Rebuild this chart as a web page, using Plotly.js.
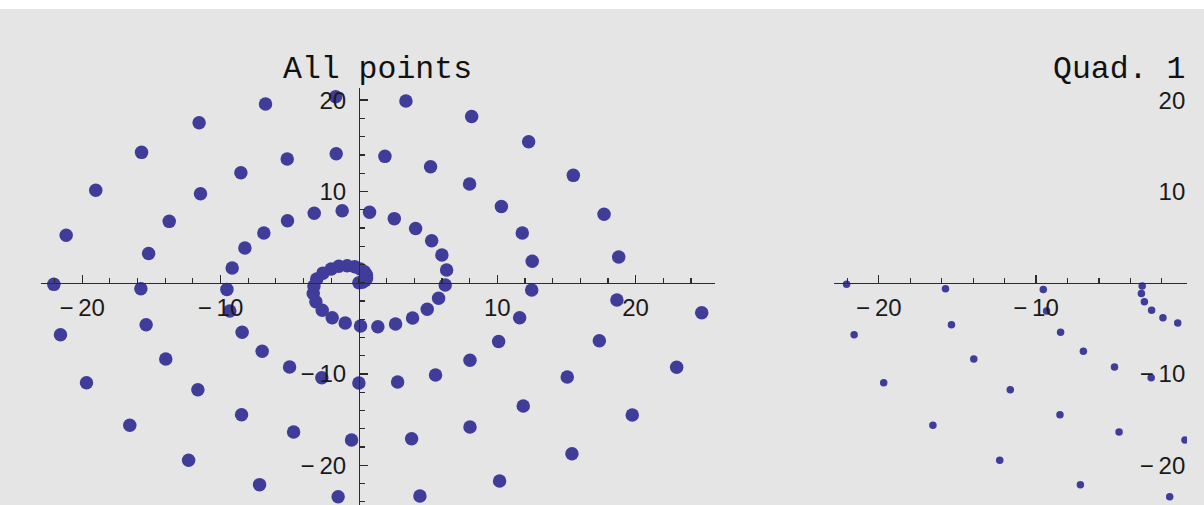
<!DOCTYPE html>
<html>
<head>
<meta charset="utf-8">
<script src="https://cdn.plot.ly/plotly-3.0.1.min.js"></script>
<style>
  html, body { margin: 0; padding: 0; background: #fff; }
  #chart { width: 1204px; height: 505px; }
</style>
</head>
<body>
<div id="chart"></div>
<script>
// Spiral sample points, listed from the centre outward
const spiralX = [
  0.00, 0.25, 0.45, 0.55, 0.55, 0.40, 0.10, -0.30, -0.85, -1.45,
  -2.00, -2.60, -3.05, -3.25, -3.30, -3.11, -2.65, -1.93, -0.99, 0.12,
  1.37, 2.65, 3.88, 4.94, 5.76, 6.24, 6.34, 6.00, 5.26, 4.10,
  2.56, 0.77, -1.21, -3.23, -5.16, -6.87, -8.24, -9.16, -9.54, -9.33,
  -8.44, -6.99, -5.01, -2.68, 0.00, 2.80, 5.54, 8.03, 10.10, 11.62,
  12.49, 12.53, 11.81, 10.30, 8.00, 5.18, 1.88, -1.64, -5.18, -8.53,
  -11.45, -13.71, -15.20, -15.76, -15.38, -13.96, -11.64, -8.48, -4.72, -0.53,
  3.81, 8.03, 11.88, 15.06, 17.38, 18.65, 18.78, 17.72, 15.50, 12.27,
  8.15, 3.40, -1.68, -6.75, -11.55, -15.71, -19.02, -21.16, -22.05, -21.57,
  -19.69, -16.56, -12.31, -7.18, -1.50, 4.41, 10.17, 15.40, 19.76, 22.97,
  24.78
];
const spiralY = [
  0.00, 0.05, 0.25, 0.50, 0.85, 1.20, 1.50, 1.75, 1.85, 1.80,
  1.50, 1.05, 0.40, -0.36, -1.18, -2.08, -3.02, -3.83, -4.41, -4.74,
  -4.82, -4.52, -3.87, -2.91, -1.71, -0.25, 1.39, 3.03, 4.60, 5.93,
  7.02, 7.71, 7.89, 7.60, 6.79, 5.45, 3.80, 1.61, -0.73, -3.10,
  -5.43, -7.51, -9.23, -10.40, -10.99, -10.87, -10.10, -8.50, -6.44, -3.83,
  -0.80, 2.34, 5.44, 8.36, 10.81, 12.71, 13.84, 14.13, 13.55, 12.05,
  9.75, 6.72, 3.20, -0.66, -4.60, -8.36, -11.72, -14.46, -16.35, -17.23,
  -17.09, -15.80, -13.50, -10.33, -6.35, -1.90, 2.81, 7.49, 11.76, 15.44,
  18.20, 19.90, 20.37, 19.57, 17.52, 14.28, 10.12, 5.19, -0.18, -5.69,
  -10.95, -15.62, -19.45, -22.12, -23.44, -23.36, -21.72, -18.73, -14.49, -9.27,
  -3.28
];

// Tick positions and labels shared by both panels
const xTickVals = [-20, -10, 10, 20];
const xTickText = ['\u2212\u200920', '\u2212\u200910', '10', '20'];
const yTickVals = [-20, -10, 10, 20];
const yTickText = ['\u2212\u200920', '\u2212\u200910', '10', '20'];

const panelTitles = ['All points', 'Quad. 1'];

// Second panel: only the points lying left of and below the origin
const quadX = [];
const quadY = [];
spiralX.forEach((x, i) => {
  if (x < 0 && spiralY[i] < 0) { quadX.push(x); quadY.push(spiralY[i]); }
});

const W = 1204, H = 505;
const fx = px => px / W;
const fy = py => 1 - py / H;
const at = (dom, rng, v) => dom[0] + (dom[1] - dom[0]) * (v - rng[0]) / (rng[1] - rng[0]);

const leftXRange = [-23.0, 25.74];
const rightXRange = [-22.85, -0.40];
const yRange = [-24.35, 21.33];
const leftXDom = [fx(40.7), fx(715)];
const rightXDom = [fx(834), fx(1187)];
const yDom = [0, fy(88)];

const mono = '"Liberation Mono", "Courier New", Courier, monospace';
const sans = '"Liberation Sans", Arial, Helvetica, sans-serif';
const ink = '#2b2b2b';
const tickFont = { family: sans, size: 24, color: '#1a1a1a' };
const dotColor = '#403d9a';

function xAxisSpec(dom, rng) {
  return {
    domain: dom, range: rng, anchor: 'free', position: at(yDom, yRange, 0),
    showline: true, linecolor: ink, linewidth: 1.4,
    ticks: 'inside', ticklen: 8, tickwidth: 1.3, tickcolor: ink,
    tickmode: 'array', tickvals: xTickVals, ticktext: xTickText,
    tickfont: tickFont, ticklabelstandoff: 3,
    minor: { tickmode: 'linear', tick0: 0, dtick: 2, ticks: 'inside', ticklen: 4.5,
             tickwidth: 1.2, tickcolor: ink, showgrid: false },
    showgrid: false, zeroline: false, fixedrange: true
  };
}

const layout = {
  width: W, height: H,
  margin: { l: 0, r: 0, t: 0, b: 0, pad: 0 },
  paper_bgcolor: '#ffffff',
  plot_bgcolor: 'rgba(0,0,0,0)',
  showlegend: false,
  xaxis: xAxisSpec(leftXDom, leftXRange),
  xaxis2: xAxisSpec(rightXDom, rightXRange),
  yaxis: {
    domain: yDom, range: yRange, anchor: 'free', position: at(leftXDom, leftXRange, 0),
    showline: true, linecolor: ink, linewidth: 1.4,
    ticks: 'inside', ticklen: 8, tickwidth: 1.3, tickcolor: ink,
    tickmode: 'array', tickvals: yTickVals, ticktext: yTickText,
    tickfont: tickFont, ticklabelstandoff: 8,
    minor: { tickmode: 'linear', tick0: 0, dtick: 2, ticks: 'inside', ticklen: 4.5,
             tickwidth: 1.2, tickcolor: ink, showgrid: false },
    showgrid: false, zeroline: false, fixedrange: true
  },
  yaxis2: {
    domain: yDom, range: yRange, anchor: 'free', position: at(rightXDom, rightXRange, 0),
    showline: false, ticks: '',
    tickmode: 'array', tickvals: yTickVals, ticktext: yTickText,
    tickfont: tickFont, ticklabelstandoff: 8,
    showgrid: false, zeroline: false, fixedrange: true
  },
  shapes: [{
    type: 'rect', xref: 'paper', yref: 'paper', x0: 0, x1: 1, y0: 0, y1: fy(9),
    fillcolor: '#e5e5e5', line: { width: 0 }, layer: 'below'
  }],
  annotations: [
    { text: panelTitles[0], xref: 'paper', yref: 'paper', x: fx(377), y: fy(69),
      xanchor: 'center', yanchor: 'middle', showarrow: false,
      font: { family: mono, size: 31.5, color: '#111' } },
    { text: panelTitles[1], xref: 'paper', yref: 'paper', x: fx(1118.5), y: fy(69),
      xanchor: 'center', yanchor: 'middle', showarrow: false,
      font: { family: mono, size: 31.5, color: '#111' } }
  ]
};

const traces = [
  { type: 'scatter', mode: 'markers', x: spiralX, y: spiralY, xaxis: 'x', yaxis: 'y',
    marker: { size: 13.5, color: dotColor, line: { width: 0 } }, hoverinfo: 'skip' },
  { type: 'scatter', mode: 'markers', x: quadX, y: quadY, xaxis: 'x2', yaxis: 'y2',
    marker: { size: 7.5, color: dotColor, line: { width: 0 } }, hoverinfo: 'skip' }
];

Plotly.newPlot('chart', traces, layout, { staticPlot: true, displayModeBar: false });
</script>
</body>
</html>
